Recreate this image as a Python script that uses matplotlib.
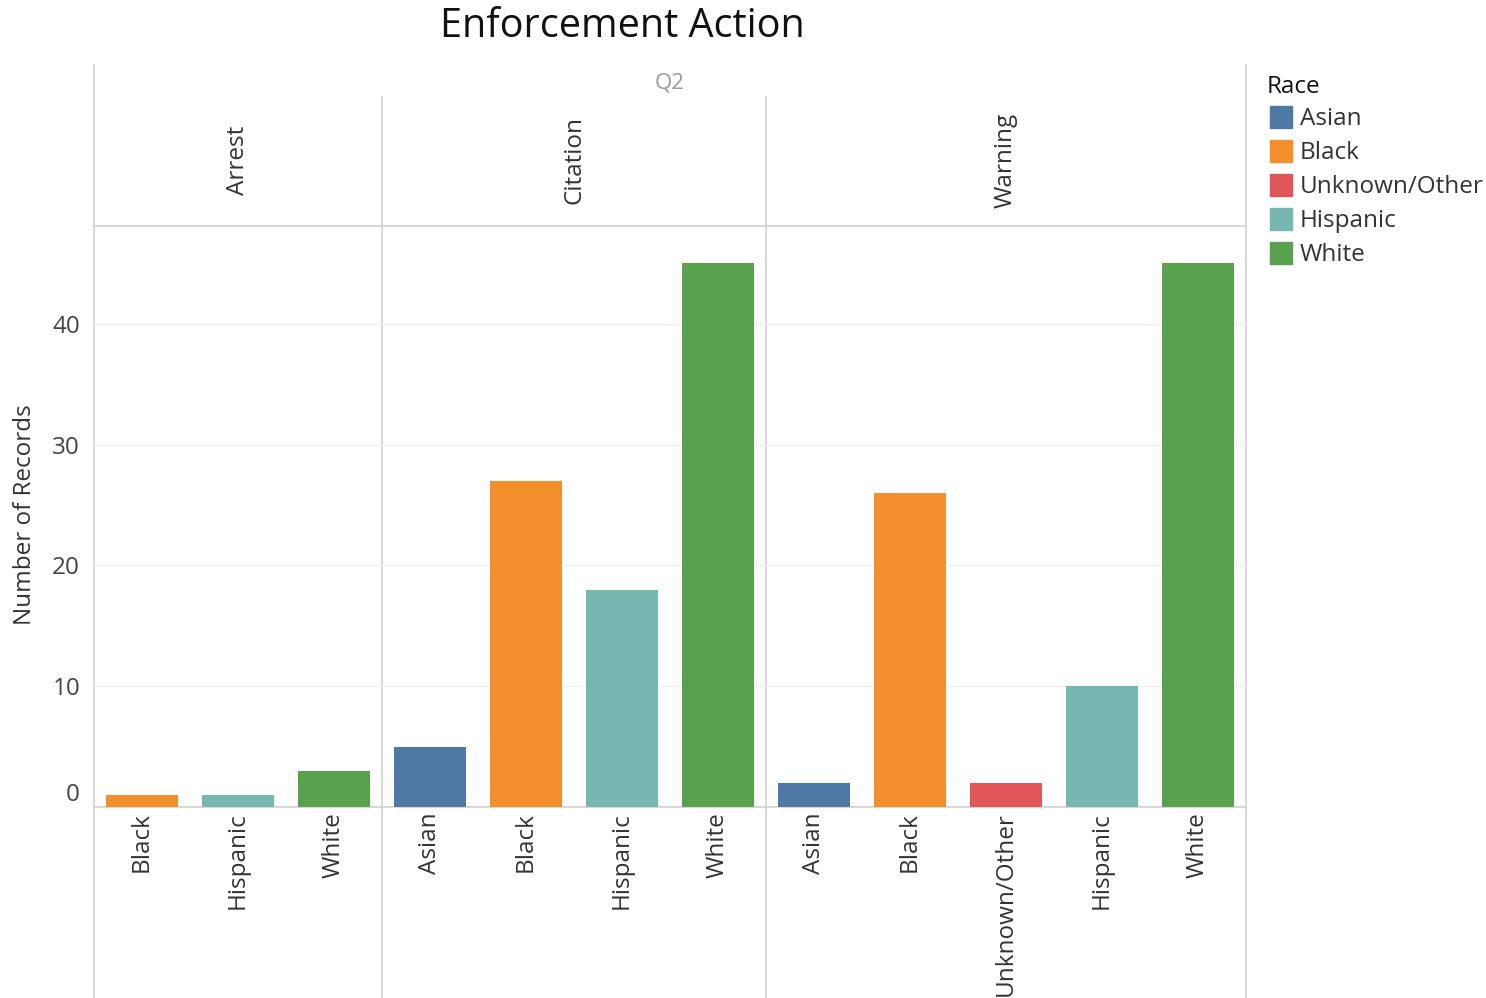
import matplotlib
matplotlib.use("Agg")
import matplotlib.pyplot as plt
from matplotlib.patches import Rectangle

plt.rcParams["font.family"] = ["Open Sans", "DejaVu Sans"]

# data
actions = ["Arrest", "Citation", "Warning"]
arrest_races = ["Black", "Hispanic", "White"]
arrest_counts = [1, 1, 3]
citation_races = ["Asian", "Black", "Hispanic", "White"]
citation_counts = [5, 27, 18, 45]
warning_races = ["Asian", "Black", "Unknown/Other", "Hispanic", "White"]
warning_counts = [2, 26, 2, 10, 45]

legend_races = ["Asian", "Black", "Unknown/Other", "Hispanic", "White"]
race_colors = {
    "Asian": "#4e79a7",
    "Black": "#f28e2b",
    "Unknown/Other": "#e15759",
    "Hispanic": "#76b7b2",
    "White": "#59a14f",
}

W, H = 1486, 998
LINE = "#d4d4d4"
TEXT = "#333333"
FS = 17.5

groups = [arrest_races, citation_races, warning_races]
counts = [arrest_counts, citation_counts, warning_counts]

races_flat, counts_flat, group_edges, group_centers = [], [], [], []
pos = 0
for races, vals in zip(groups, counts):
    group_centers.append(pos + (len(races) - 1) / 2)
    races_flat += races
    counts_flat += vals
    pos += len(races)
    group_edges.append(pos - 0.5)
n = len(races_flat)
xs = list(range(n))

fig = plt.figure(figsize=(W / 100, H / 100), dpi=100)

# frame / header lines, pixel y coords
frame = fig.add_axes([94 / W, 0, 1152 / W, 1], zorder=0)
frame.set_xlim(-0.5, n - 0.5)
frame.set_ylim(H, 0)
frame.axis("off")
frame.plot([-0.5, -0.5], [65, H], color=LINE, lw=1.3, clip_on=False)
frame.plot([n - 0.5, n - 0.5], [65, H], color=LINE, lw=1.3, clip_on=False)
for e in group_edges[:-1]:
    frame.plot([e, e], [97, H], color=LINE, lw=1.3, clip_on=False)
frame.plot([-0.5, n - 0.5], [226, 226], color=LINE, lw=1.3, clip_on=False)
frame.text((n - 1) / 2, 83, "Q2", ha="center", va="center", fontsize=16, color="#999999")
for c, name in zip(group_centers, actions):
    frame.text(c, 160, name, rotation=90, ha="center", va="center", fontsize=FS, color=TEXT)

# bars
ax = fig.add_axes([94 / W, (H - 807) / H, 1152 / W, (807 - 226) / H], zorder=1)
ax.patch.set_alpha(0)
ax.bar(xs, counts_flat, width=0.75, color=[race_colors[r] for r in races_flat], zorder=3)
ax.set_xlim(-0.5, n - 0.5)
ax.set_ylim(0, 48.1)
ax.set_yticks([0, 10, 20, 30, 40])
ax.grid(axis="y", color="#efefef", lw=1, zorder=0)
ax.set_xticks(xs)
ax.set_xticklabels(races_flat, rotation=90, fontsize=FS, color=TEXT)
ax.tick_params(axis="x", length=0, pad=4)
ax.tick_params(axis="y", length=0, pad=10, labelsize=FS, labelcolor="#444444")
for lab in ax.get_yticklabels():
    if lab.get_text() == "0":
        lab.set_verticalalignment("bottom")
for s in ["top", "left", "right"]:
    ax.spines[s].set_visible(False)
ax.spines["bottom"].set_color(LINE)
ax.spines["bottom"].set_linewidth(1.3)

fig.text(25 / W, 1 - 515 / H, "Number of Records", rotation=90, ha="center", va="center",
         fontsize=FS, color=TEXT)
fig.text(622 / W, 1 - 27 / H, "Enforcement Action", ha="center", va="center",
         fontsize=28.5, color="#111111")

# legend
fig.text(1267 / W, 1 - 87 / H, "Race", ha="left", va="center", fontsize=FS, color="#111111")
for i, r in enumerate(legend_races):
    yc = 117 + i * 34
    fig.add_artist(Rectangle((1270 / W, 1 - (yc + 11) / H), 22 / W, 22 / H,
                             transform=fig.transFigure, color=race_colors[r]))
    fig.text(1300 / W, 1 - (yc + 2) / H, r, ha="left", va="center", fontsize=FS, color=TEXT)

fig.savefig("out.png", dpi=100)
